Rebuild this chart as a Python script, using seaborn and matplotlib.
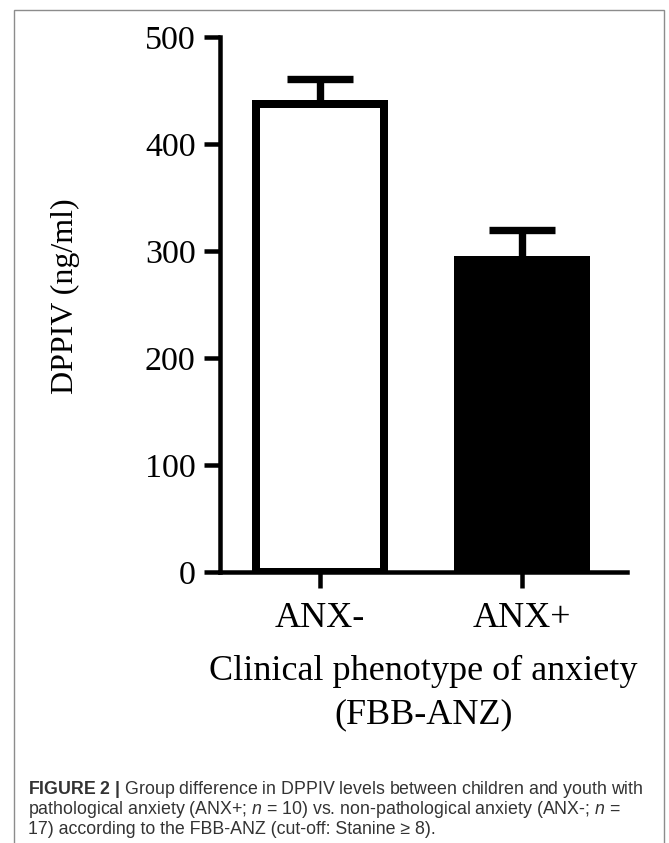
import matplotlib.pyplot as plt
import matplotlib.patches as mpatches
import pandas as pd
import seaborn as sns

# values (mean + SEM, ng/ml)
groups = ["ANX-", "ANX+"]
means = [437, 292]
sems = [24, 28]
bar_colors = ["white", "black"]
y_ticks = [0, 100, 200, 300, 400, 500]

caption_lines = [
    r"$\mathbf{FIGURE\ 2\ |}$ Group difference in DPPIV levels between children and youth with",
    r"pathological anxiety (ANX+; $n$ = 10) vs. non-pathological anxiety (ANX-; $n$ =",
    "17) according to the FBB-ANZ (cut-off: Stanine \u2265 8).",
]

sns.set_theme(style="ticks")
plt.rcParams["font.family"] = ["Liberation Serif", "DejaVu Serif"]
plt.rcParams["mathtext.fontset"] = "custom"
plt.rcParams["mathtext.rm"] = "Liberation Sans"
plt.rcParams["mathtext.it"] = "Liberation Sans:italic"
plt.rcParams["mathtext.bf"] = "Liberation Sans:bold"

df = pd.DataFrame({"group": groups, "dppiv": means})

fig = plt.figure(figsize=(6.69, 8.43), dpi=100)
ax = fig.add_axes([0.3288, 0.3215, 0.6084, 0.6346])

sns.barplot(
    data=df, x="group", y="dppiv", hue="group", order=groups,
    palette=dict(zip(groups, bar_colors)), saturation=1, width=0.634,
    edgecolor="black", linewidth=5.76, errorbar=None, legend=False, ax=ax
)
# upper error bars only
ax.errorbar(
    x=list(range(len(groups))), y=means, yerr=[[0] * len(sems), sems],
    fmt="none", ecolor="black", elinewidth=5.3, capsize=23.5, capthick=5.3,
    zorder=0
)

ax.set_xlim(-0.495, 1.52)
ax.set_ylim(0, 500)
ax.set_yticks(y_ticks)
sns.despine(ax=ax)
for side in ["left", "bottom"]:
    ax.spines[side].set_linewidth(3.24)
    ax.spines[side].set_color("black")
ax.tick_params(axis="both", width=3.24, length=11.5, color="black", labelcolor="black")
ax.tick_params(axis="y", labelsize=24.5, pad=6)
ax.tick_params(axis="x", labelsize=26, pad=10)

ax.set_xlabel("Clinical phenotype of anxiety\n(FBB-ANZ)", fontsize=26, linespacing=1.4, color="black")
ax.xaxis.set_label_coords(0.5, -0.155)
ax.set_ylabel("DPPIV (ng/ml)", fontsize=23, color="black")
ax.yaxis.set_label_coords(-0.344, 0.516)

# caption under the chart
baselines = [794.5, 814.0, 833.5]
for line, yb in zip(caption_lines, baselines):
    fig.text(28 / 669, 1 - yb / 843, line, fontsize=12.8, family="Liberation Sans",
             color="#333333", va="baseline", ha="left")

# thin frame around figure + caption
fig.patches.append(mpatches.Rectangle(
    (14 / 669, -0.01), 650 / 669, 1.01 - 10 / 843, transform=fig.transFigure,
    fill=False, edgecolor="#8c8c8c", linewidth=1.0
))

fig.savefig("out.png", dpi=100)
plt.close(fig)
